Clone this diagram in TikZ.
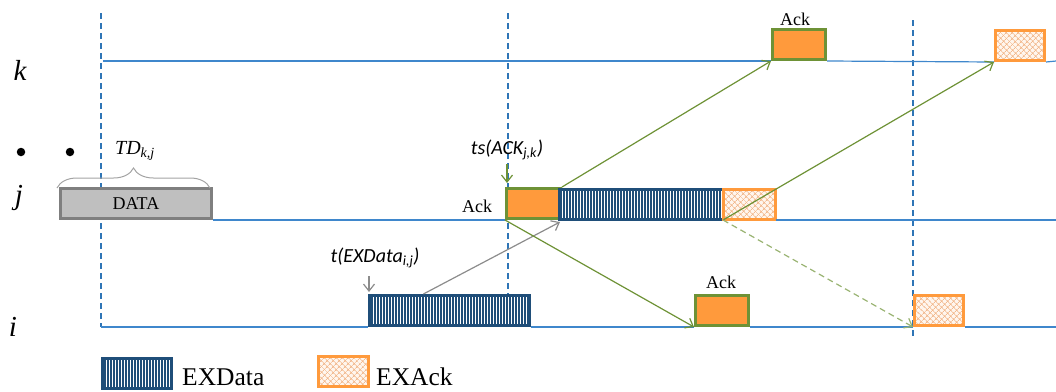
\documentclass[tikz,border=0pt]{standalone}
\usepackage{fontspec}
\setmainfont{Liberation Serif}
\newfontfamily\calfont{Carlito}
\usetikzlibrary{arrows.meta,patterns.meta,decorations.pathreplacing,calc}
\definecolor{tlblue}{HTML}{3F87CC}
\definecolor{dashblue}{HTML}{2E75B6}
\definecolor{ackgreen}{HTML}{6E9236}
\definecolor{ackorange}{HTML}{FF9A3C}
\definecolor{exblue}{HTML}{1F4E79}
\definecolor{exorange}{HTML}{FF9A3C}
\definecolor{hatchbg}{HTML}{FFF6EE}
\definecolor{hatchfg}{HTML}{F2B88C}
\definecolor{datagray}{HTML}{BFBFBF}
\definecolor{databorder}{HTML}{7F7F7F}
\definecolor{arrgray}{HTML}{8C8C8C}
\begin{document}
\begin{tikzpicture}[x=1pt,y=-1pt,
  tl/.style={draw=tlblue,line width=1.2pt},
  vdash/.style={draw=dashblue,line width=1.3pt,dash pattern=on 6pt off 4pt},
  box/.style={rectangle,inner sep=0pt,anchor=south west,minimum height=30pt,line width=3pt},
  ackbox/.style={box,draw=ackgreen,fill=ackorange},
  exdbox/.style={box,draw=exblue,preaction={fill=white},pattern={Lines[angle=90,distance=3pt,line width=1.8pt]},pattern color=exblue},
  exabox/.style={box,draw=exorange,preaction={fill=hatchbg},pattern={Hatch[angle=45,distance=4pt,line width=0.7pt]},pattern color=hatchfg},
  databox/.style={box,draw=databorder,fill=datagray,font=\fontsize{18pt}{20pt}\selectfont},
  garrow/.style={draw=ackgreen,line width=1.2pt,-{Straight Barb[length=7pt,width=11pt]}},
  gyarrow/.style={draw=arrgray,line width=1.2pt,-{Straight Barb[length=7pt,width=11pt]}},
  acklab/.style={font=\fontsize{18pt}{20pt}\selectfont,inner sep=0pt},
  rowlab/.style={font=\fontsize{29pt}{30pt}\selectfont\itshape,inner sep=0pt},
  callab/.style={font=\fontsize{20pt}{22pt}\selectfont\calfont\itshape,inner sep=0pt},
  leglab/.style={font=\fontsize{25.5pt}{27pt}\selectfont,inner sep=0pt,anchor=west},
  dotnode/.style={circle,fill=black,inner sep=0pt,minimum size=8.5pt}
]
\useasboundingbox (0,0) rectangle (1056,391);

% row labels and dots
\node[rowlab] (klab) at (20,70) {k};
\node[rowlab] (jlab) at (19,198) {j};
\node[rowlab] (ilab) at (13,327) {i};
\node[dotnode] (dot1) at (21,152) {};
\node[dotnode] (dot2) at (70,152) {};

% vertical dashed lines
\coordinate (v1t) at (101,13); \coordinate (v1b) at (101,327);
\coordinate (v2t) at (508,13); \coordinate (v2b) at (508,297);
\coordinate (v3t) at (913,20); \coordinate (v3b) at (913,337);
\draw[vdash] (v1t) -- (v1b);
\draw[vdash] (v2t) -- (v2b);
\draw[vdash] (v3t) -- (v3b);

% boxes
\node[databox,minimum width=151pt] (data) at (59,220) {DATA};
\node[ackbox,minimum width=54pt] (ackj) at (505,220) {};
\node[exdbox,minimum width=164pt] (exdj) at (559,220) {};
\node[exabox,minimum width=52pt] (exaj) at (723,220) {};
\node[ackbox,minimum width=53pt] (ackk) at (771,61) {};
\node[exabox,minimum width=49pt] (exak) at (994,62) {};
\node[exdbox,minimum width=160pt] (exdi) at (368,327) {};
\node[ackbox,minimum width=53pt] (acki) at (694,327) {};
\node[exabox,minimum width=49pt] (exai) at (913,327) {};

% timelines
\coordinate (kstart) at (103,61); \coordinate (kend) at (1056,61);
\coordinate (jend) at (1056,220);
\coordinate (iend) at (1056,327);
\draw[tl] (kstart) -- (ackk.south west);
\draw[tl] (ackk.south east) -- (exak.south west);
\draw[tl] (exak.south east) -- (kend);
\draw[tl] (data.south east) -- (ackj.south west);
\draw[tl] (exaj.south east) -- (jend);
\draw[tl] (v1b) -- (exdi.south west);
\draw[tl] (exdi.south east) -- (acki.south west);
\draw[tl] (acki.south east) -- (exai.south west);
\draw[tl] (exai.south east) -- (iend);

% brace and TD label
\coordinate (brl) at (57,188); \coordinate (brr) at (210,188);
\draw[draw=arrgray!80,line width=1pt,decorate,decoration={brace,amplitude=20pt}] (brl) -- (brr);
\node[font=\fontsize{20pt}{22pt}\selectfont\itshape,inner sep=0pt] (tdlab) at (135,151) {TD\textsubscript{k,j}};

% Ack labels
\node[acklab] (ackjlab) at (477,206) {Ack};
\node[acklab] (ackklab) at (795,19) {Ack};
\node[acklab] (ackilab) at (721,282) {Ack};

% time labels
\node[callab] (tslab) at (507,150) {ts(ACK\textsubscript{j,k})};
\node[callab] (texlab) at (375,258) {t(EXData\textsubscript{i,j})};
\coordinate (tsa) at ($(tslab.south -| ackj.north west)+(2,4)$);
\draw[garrow] (tsa) -- ($(tsa |- ackj.north)+(0,-4)$);
\coordinate (texa) at ($(exdi.north west |- texlab.south)+(1,8)$);
\draw[gyarrow] (texa) -- ($(exdi.north west)+(1,-2)$);

% message arrows
\draw[gyarrow] ($(exdi.north west)!0.34!(exdi.north east)$) -- ($(ackj.south east)+(-2,2)$);
\draw[garrow] (ackj.north east) -- (ackk.south west);
\draw[garrow] (ackj.south west) -- (acki.south west);
\draw[garrow] (exaj.south west) -- (exak.south west);
\draw[garrow,draw=ackgreen!70,dash pattern=on 6pt off 4pt] (exaj.south west) -- (exai.south west);

% legend
\node[exdbox,minimum width=69pt] (legexd) at (101,389.5) {};
\node[leglab] (legexdlab) at (182,377) {EXData};
\node[exabox,minimum width=50pt] (legexa) at (317,388) {};
\node[leglab] (legexalab) at (376,377) {EXAck};
\end{tikzpicture}
\end{document}
